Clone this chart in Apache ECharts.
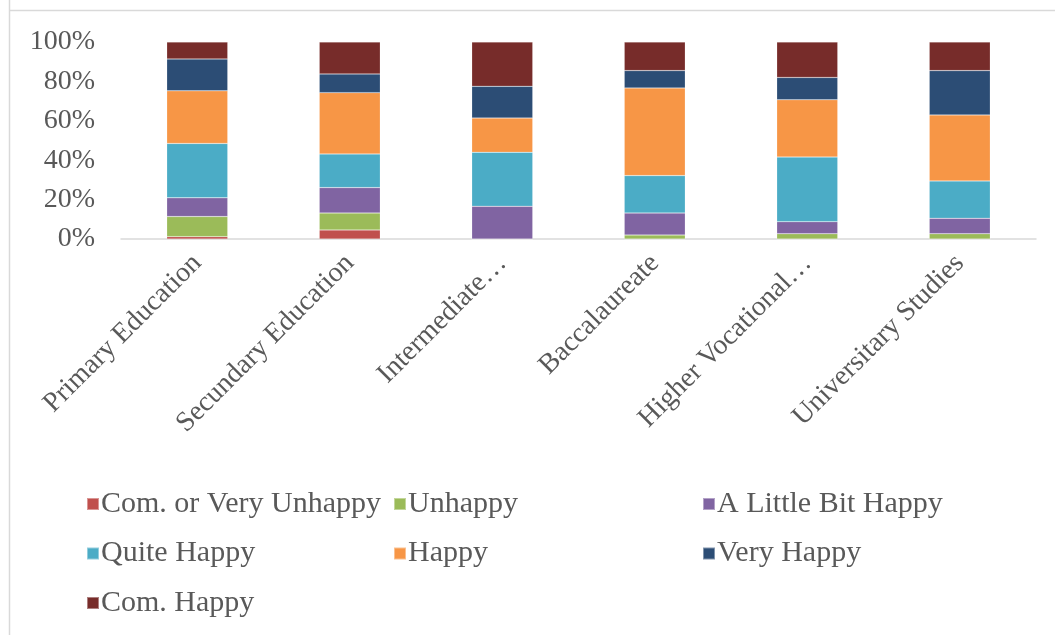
<!DOCTYPE html>
<html><head><meta charset="utf-8">
<script src="https://cdn.jsdelivr.net/npm/echarts@6/dist/echarts.min.js"></script>
<style>html,body{margin:0;padding:0;background:#fff}#c{width:1055px;height:635px}</style>
</head><body><div id="c"></div>
<script>
const categories = ['Primary Education','Secundary Education','Intermediate…','Baccalaureate','Higher Vocational…','Universitary Studies'];
const seriesNames = ['Com. or Very Unhappy','Unhappy','A Little Bit Happy','Quite Happy','Happy','Very Happy','Com. Happy'];
const comVeryUnhappy = [1.2, 4.6, 0, 0, 0, 0];
const unhappy        = [10.2, 8.6, 0, 2.0, 2.7, 2.7];
const littleBitHappy = [9.5, 12.9, 16.6, 11.2, 6.1, 7.8];
const quiteHappy     = [27.6, 17.1, 27.4, 19.0, 32.8, 19.0];
const happy          = [26.7, 31.1, 17.4, 44.5, 29.1, 33.5];
const veryHappy      = [16.2, 9.5, 16.1, 8.8, 11.3, 22.5];
const comHappy       = [8.6, 16.2, 22.5, 14.5, 18.0, 14.5];
const yTicks = [0, 20, 40, 60, 80, 100];

const colors = ['#C0504D','#9BBB59','#8064A2','#4BACC6','#F79646','#2C4D75','#772C2A'];
const allData = [comVeryUnhappy, unhappy, littleBitHappy, quiteHappy, happy, veryHappy, comHappy];
const font = '"Liberation Serif", "Times New Roman", serif';
const txt = '#595959';

const chart = echarts.init(document.getElementById('c'), null, {renderer:'canvas'});
const legendCommon = {
  orient:'vertical', itemWidth:12, itemHeight:12, itemGap:19.5, icon:'rect',
  textStyle:{fontFamily:font, fontSize:30, lineHeight:30, color:txt, padding:[0,0,0,-3]},
  selectedMode:false
};
chart.setOption({
  animation:false,
  color: colors,
  graphic:[
    {type:'line', shape:{x1:9.5,y1:0,x2:9.5,y2:635}, style:{stroke:'#d9d9d9', lineWidth:1.5}},
    {type:'line', shape:{x1:9,y1:10.5,x2:1055,y2:10.5}, style:{stroke:'#d9d9d9', lineWidth:1.5}}
  ],
  grid:{left:121, right:19, top:42, bottom:396, containLabel:false},
  legend:[
    Object.assign({left:81, top:484, data:[seriesNames[0], seriesNames[3], seriesNames[6]]}, legendCommon),
    Object.assign({left:388, top:484, data:[seriesNames[1], seriesNames[4]]}, legendCommon),
    Object.assign({left:697, top:484, data:[seriesNames[2], seriesNames[5]]}, legendCommon)
  ],
  xAxis:{
    type:'category', data:categories,
    axisLine:{lineStyle:{color:'#d9d9d9', width:1.5}},
    axisTick:{show:false},
    axisLabel:{rotate:45, interval:0, margin:20, fontFamily:font, fontSize:28, color:txt}
  },
  yAxis:{
    type:'value', min:yTicks[0], max:yTicks[yTicks.length-1], interval:20,
    splitLine:{show:false}, axisLine:{show:false}, axisTick:{show:false},
    axisLabel:{margin:26, fontFamily:font, fontSize:28, color:txt, formatter:v=>v+'%'}
  },
  series: seriesNames.map((n,i)=>({
    name:n, type:'bar', stack:'total', data:allData[i], barWidth:61,
    itemStyle:{color:colors[i], borderColor:'rgba(255,255,255,0.4)', borderWidth:0.5}
  }))
});
</script></body></html>
